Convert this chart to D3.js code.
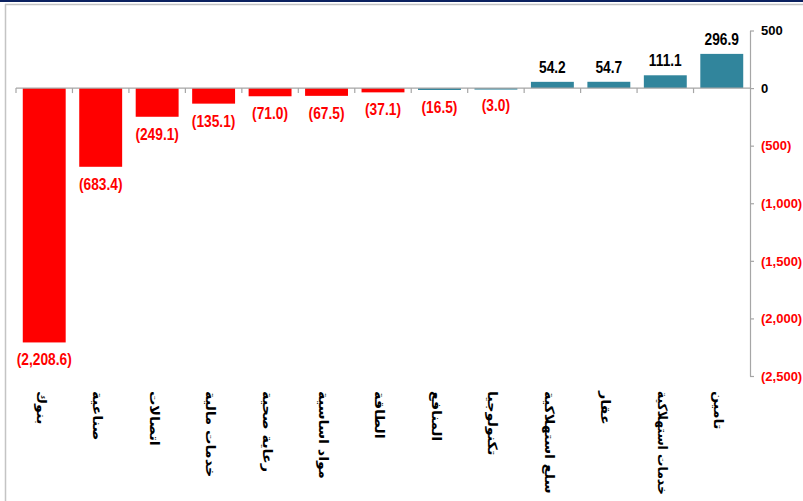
<!DOCTYPE html>
<html>
<head>
<meta charset="utf-8">
<script src="https://cdn.jsdelivr.net/npm/d3@7"></script>
<style>
  body { margin: 0; background: #fff; }
  svg { display: block; }
</style>
</head>
<body>
<div id="chart"></div>
<script>
const sectors = ["بنوك", "صناعية", "اتصالات", "خدمات مالية", "رعاية صحية", "مواد اساسية", "الطاقة", "المنافع", "تكنولوجيا", "سلع استهلاكية", "عقار", "خدمات استهلاكية", "تامين"];
const values = [-2208.6, -683.4, -249.1, -135.1, -71.0, -67.5, -37.1, -16.5, -3.0, 54.2, 54.7, 111.1, 296.9];
const barColors = ["#ff0000", "#ff0000", "#ff0000", "#ff0000", "#ff0000", "#ff0000", "#ff0000", "#31859c", "#31859c", "#31859c", "#31859c", "#31859c", "#31859c"];
const yTicks = [500, 0, -500, -1000, -1500, -2000, -2500];

const width = 803, height = 501;

const svg = d3.select("#chart").append("svg")
    .attr("width", width)
    .attr("height", height);

// frame bits
svg.append("rect").attr("x", 0).attr("y", 0).attr("width", width).attr("height", 2).attr("fill", "#0b2160");
svg.append("line").attr("x1", 5).attr("x2", width).attr("y1", 4.5).attr("y2", 4.5)
    .attr("stroke", "#c4c4c4").attr("stroke-width", 1.5);
svg.append("line").attr("x1", 5.5).attr("x2", 5.5).attr("y1", 4).attr("y2", height)
    .attr("stroke", "#c4c4c4").attr("stroke-width", 1.5);

const x = d3.scaleBand()
    .domain(sectors)
    .range([16, 750])
    .paddingInner(0.24)
    .paddingOuter(0.12);

const y = d3.scaleLinear()
    .domain([-2500, 500])
    .range([376, 30.5]);

const fmt = v => {
    const s = d3.format(",")(Math.abs(v));
    return v < 0 ? "(" + s + ")" : s;
};
const fmt1 = v => {
    const s = d3.format(",.1f")(Math.abs(v));
    return v < 0 ? "(" + s + ")" : s;
};

// bars
svg.append("g")
    .selectAll("rect")
    .data(values)
    .enter().append("rect")
    .attr("x", (d, i) => x(sectors[i]))
    .attr("width", x.bandwidth())
    .attr("y", d => Math.min(y(d), y(0)))
    .attr("height", d => Math.max(1.5, Math.abs(y(d) - y(0))))
    .attr("fill", (d, i) => barColors[i]);

// zero line with category ticks
const step = x.step();
svg.append("line")
    .attr("x1", 16).attr("x2", 750)
    .attr("y1", y(0)).attr("y2", y(0))
    .attr("stroke", "#a6a6a6").attr("stroke-width", 1.2);
svg.append("g")
    .selectAll("line")
    .data(d3.range(sectors.length))
    .enter().append("line")
    .attr("x1", i => x(sectors[i]) - step * 0.12)
    .attr("x2", i => x(sectors[i]) - step * 0.12)
    .attr("y1", y(0)).attr("y2", y(0) + 5)
    .attr("stroke", "#a6a6a6").attr("stroke-width", 1.2);

// y axis on the right
const yAxis = svg.append("g")
    .attr("transform", "translate(750,0)")
    .call(d3.axisRight(y).tickValues(yTicks).tickSize(0).tickPadding(11).tickFormat(fmt));
yAxis.select(".domain").attr("stroke", "#a6a6a6").attr("stroke-width", 1.2);
yAxis.selectAll(".tick line").remove();
yAxis.selectAll(".tick").append("line")
    .attr("x1", 0).attr("x2", 4)
    .attr("stroke", "#a6a6a6").attr("stroke-width", 1.2);
yAxis.selectAll(".tick text")
    .attr("font-family", "Liberation Sans, Arial, sans-serif")
    .attr("font-size", 13)
    .attr("font-weight", "bold")
    .attr("fill", d => d < 0 ? "#ff0000" : "#000");

// value labels
svg.append("g")
    .selectAll("text")
    .data(values)
    .enter().append("text")
    .attr("transform", (d, i) => {
        const cx = x(sectors[i]) + x.bandwidth() / 2;
        const cy = d < 0 ? y(d) + 23 : y(d) - 9;
        return "translate(" + cx + "," + cy + ") scale(0.86,1)";
    })
    .attr("text-anchor", "middle")
    .attr("font-family", "Liberation Sans, Arial, sans-serif")
    .attr("font-size", 16)
    .attr("font-weight", "bold")
    .attr("fill", d => d < 0 ? "#ff0000" : "#000")
    .text(fmt1);

// rotated category labels, stretched a bit but kept inside the frame
const maxLen = 104;
svg.append("g")
    .selectAll("text")
    .data(sectors)
    .enter().append("text")
    .attr("text-anchor", "start")
    .attr("dy", "0.35em")
    .attr("font-family", "DejaVu Sans, sans-serif")
    .attr("font-size", 13)
    .attr("font-weight", "bold")
    .attr("fill", "#000")
    .text(d => d)
    .attr("transform", function (d) {
        const len = this.getComputedTextLength();
        const k = Math.min(1.1, maxLen / len);
        return "translate(" + (x(d) + x.bandwidth() / 2 - 3) + ",391) rotate(90) scale(" + k + ",1)";
    });
</script>
</body>
</html>
